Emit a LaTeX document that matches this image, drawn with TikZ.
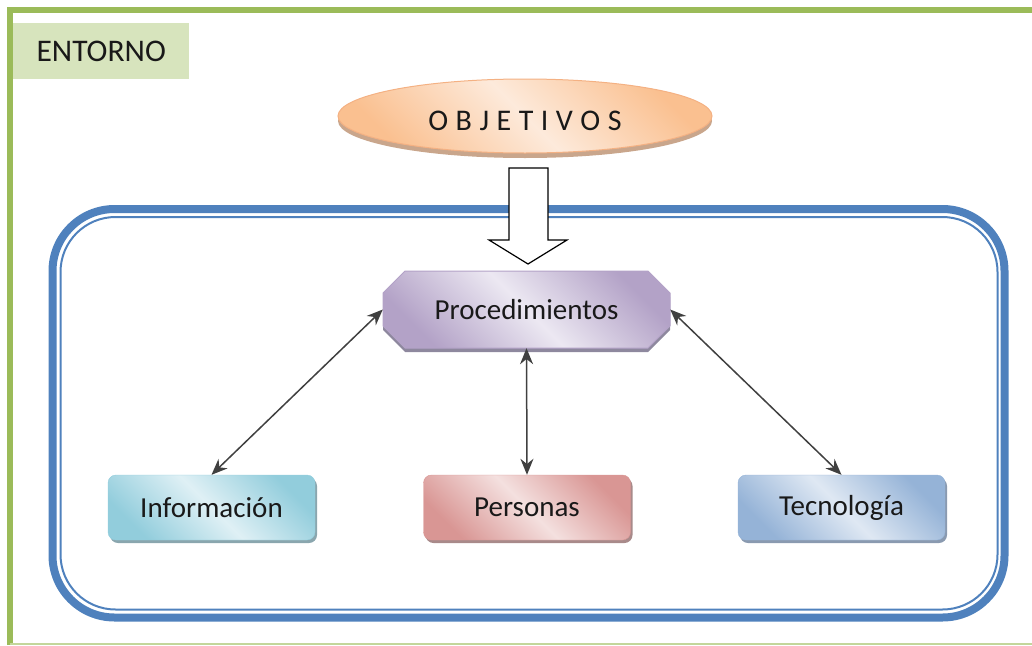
\documentclass[tikz,border=0pt]{standalone}
\usepackage{fontspec}
\setmainfont{Carlito}
\usetikzlibrary{arrows.meta,shapes.geometric}
\definecolor{frameg}{HTML}{9BBB59}
\definecolor{framel}{HTML}{C3D69B}
\definecolor{entfill}{HTML}{D7E4BD}
\definecolor{bluel}{HTML}{4F81BD}
\definecolor{orD}{HTML}{FAC090}
\definecolor{orL}{HTML}{FDEADB}
\definecolor{orB}{HTML}{F4B183}
\definecolor{orS}{HTML}{C9A68C}
\definecolor{puD}{HTML}{B3A2C7}
\definecolor{puL}{HTML}{ECE8F2}
\definecolor{puS}{HTML}{8E889E}
\definecolor{teD}{HTML}{92CDDC}
\definecolor{teL}{HTML}{DFF0F5}
\definecolor{teS}{HTML}{8AA6AE}
\definecolor{reD}{HTML}{D99694}
\definecolor{reL}{HTML}{F4E0DF}
\definecolor{reS}{HTML}{A88A8A}
\definecolor{blD}{HTML}{95B3D7}
\definecolor{blL}{HTML}{DFE8F3}
\definecolor{blS}{HTML}{8A9AB0}
\definecolor{conn}{HTML}{404040}
\begin{document}
\begin{tikzpicture}[x=1pt,y=-1pt,
  txt/.style={font=\fontsize{29}{34}\selectfont, text=black!90},
  box/.style={txt, rounded corners=8, minimum width=207, minimum height=65, inner sep=0},
  gshade/.style 2 args={shade, shading=axis, top color=#1, bottom color=#1, middle color=#2, shading angle=-45},
  depth/.style={preaction={fill=#1, transform canvas={shift={(2,3)}}}},
  link/.style={draw=conn, line width=1.5, {Stealth[length=16,width=13]}-{Stealth[length=16,width=13]}}
]
\useasboundingbox (0,0) rectangle (1032,645);
% environment frame
\draw[frameg, line width=6] (10,645) -- (10,9.5) -- (1032,9.5);
\draw[framel, line width=2] (10,644) -- (1032,644);
\node[font=\fontsize{31.5}{36}\selectfont, text=black!90, fill=entfill, minimum width=176, minimum height=56, inner sep=0, anchor=north west] (ent) at (13,23) {ENTORNO\hspace{4pt}};
% system boundary
\draw[bluel, line width=8, rounded corners=62] (52.5,209) rectangle (1004.5,617.5);
\draw[bluel, line width=2, rounded corners=55] (60.5,217) rectangle (997.5,609.5);
% objectives
\fill[orS] (525,121) ellipse [x radius=187, y radius=37];
\node[ellipse, draw=orB, line width=1, gshade={orD}{orL}, minimum width=374, minimum height=74, inner sep=0, text height=28, text depth=0, font=\fontsize{30}{34}\selectfont, text=black!90] (obj) at (525,116)
  {O\hspace{7.5pt}B\hspace{7.5pt}J\hspace{7.5pt}E\hspace{7.5pt}T\hspace{7.5pt}I\hspace{7.5pt}V\hspace{7.5pt}O\hspace{7.5pt}S};
% hollow arrow
\draw[black, line width=1.2, fill=white] (509,168) -- (548,168) -- (548,240) -- (567,240) -- (528,264) -- (489,240) -- (509,240) -- cycle;
% procedimientos
\fill[puS] (405,275) -- (648,275) -- (670,297) -- (670,330) -- (648,352) -- (405,352) -- (383,330) -- (383,297) -- cycle;
\shade[gshade={puD}{puL}, draw=puD, line width=1] (405,271) -- (648,271) -- (670,293) -- (670,326) -- (648,348) -- (405,348) -- (383,326) -- (383,293) -- cycle;
\node[txt, minimum width=287, minimum height=77, inner sep=0] (proc) at (526.5,309.5) {Procedimientos};
% bottom boxes
\node[box, depth=teS, draw=teD, gshade={teD}{teL}] (info) at (211.5,507.5) {Información};
\node[box, depth=reS, draw=reD, gshade={reD}{reL}] (pers) at (527,507.5) {Personas};
\node[box, depth=blS, draw=blD, gshade={blD}{blL}] (tech) at (841.5,507.5) {Tecnología};
% connectors
\draw[link] (proc.west) -- (info.north);
\draw[link] (proc.south) -- (pers.north);
\draw[link] (proc.east) -- (tech.north);
\end{tikzpicture}
\end{document}
